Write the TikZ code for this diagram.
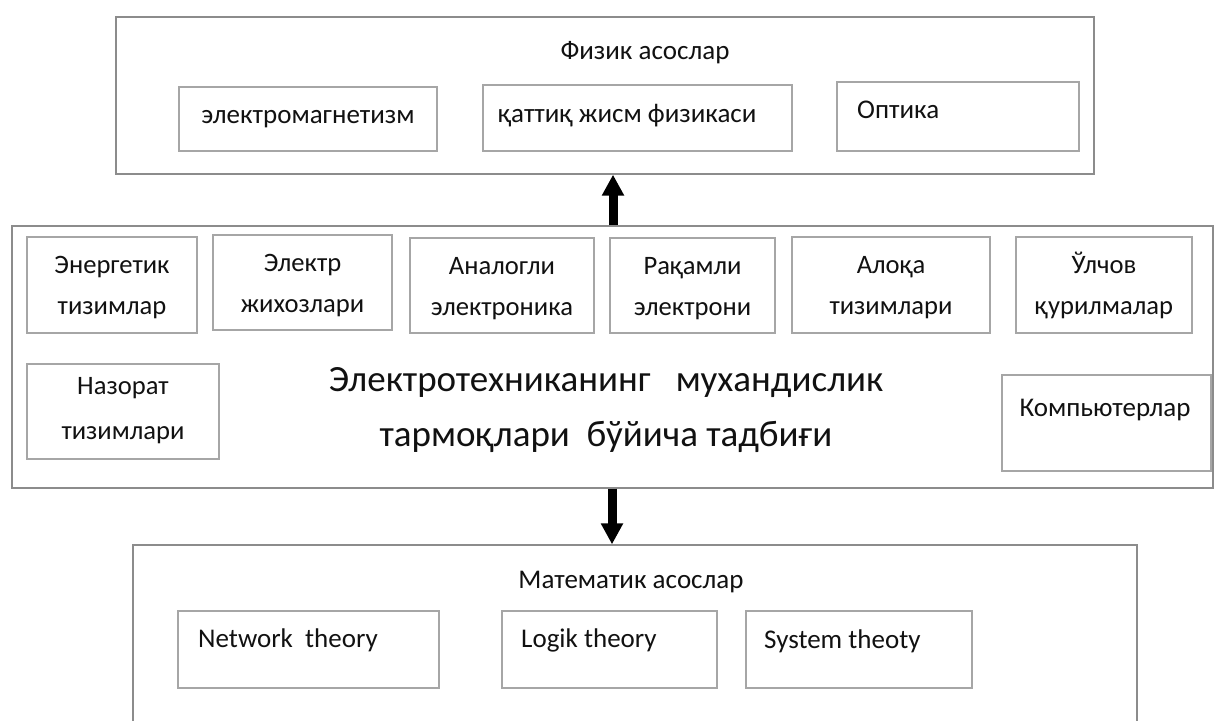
\documentclass[tikz,border=0pt]{standalone}
\usepackage{fontspec}
\setmainfont{Carlito}
\usetikzlibrary{arrows.meta}
\definecolor{boxgray}{HTML}{A6A6A6}
\definecolor{outergray}{HTML}{8C8C8C}
\definecolor{ink}{HTML}{111111}
\newcommand\myTopS[1][28pt]{\rule{0pt}{#1}}
\newcommand\myBotS{\rule[-10pt]{0pt}{10pt}}
\begin{document}
\begin{tikzpicture}[x=1pt,y=-1pt,
  rect/.style n args={4}{minimum width={#3-#1}, minimum height={#4-#2},
                         at={({(#1+#3)/2},{(#2+#4)/2})}},
  box/.style={draw=boxgray, line width=1.2pt, inner sep=0pt, text=ink,
              font=\fontsize{26.6}{41}\selectfont, align=center},
  outer/.style={draw=outergray, line width=1.3pt, inner sep=0pt},
  txt/.style={inner sep=0pt, text=ink, font=\fontsize{27}{32}\selectfont},
  bigtxt/.style={inner sep=0pt, text=ink, font=\fontsize{37}{55}\selectfont, align=center},
  blockarrow/.style={line width=9pt, -{Triangle[width=21pt,length=21pt]}}]
\clip (0,0) rectangle (1214,720);
\fill[white] (0,0) rectangle (1214,720);
% top group
\node[outer, rect={116}{17}{1094}{174}] (top) {};
\node[txt] (toptitle) at (645,53) {Физик асослар};
\node[box, rect={179}{87}{437}{151}, font=\fontsize{27}{32}\selectfont] (emag) {электромагнетизм};
\node[box, rect={483}{85}{792}{151}] (solid) {};
\node[txt, anchor=west] (solidt) at (498,116) {қаттиқ жисм физикаси};
\node[box, rect={837}{82}{1079}{151}] (opt) {};
\node[txt, anchor=west] (optt) at (857,110) {Оптика};
% middle group
\node[outer, rect={12}{226}{1213}{488}] (mid) {};
\node[box, rect={27}{237}{197}{333}] (energ) {\myTopS Энергетик\\тизимлар\myBotS};
\node[box, rect={213}{235}{392}{330}] (equip) {\myTopS Электр\\жихозлари\myBotS};
\node[box, rect={410}{238}{594}{333}] (anal) {\myTopS Аналогли\\электроника\myBotS};
\node[box, rect={610}{238}{775}{333}] (digit) {\myTopS Рақамли\\электрони\myBotS};
\node[box, rect={792}{237}{990}{333}] (comm) {\myTopS Алоқа\\тизимлари\myBotS};
\node[box, rect={1016}{237}{1192}{333}] (meas) {\myTopS Ўлчов\\қурилмалар\myBotS};
\node[box, rect={27}{364}{219}{459}, font=\fontsize{26.6}{45}\selectfont]
      (ctrl) {\myTopS[20pt]Назорат\\тизимлари\myBotS};
\node[box, rect={1002}{375}{1211}{471}] (compb) {};
\node[txt] (compt) at (1105,410) {Компьютерлар};
\node[bigtxt] (center) at (606,410) {Электротехниканинг\ \ \ мухандислик\\тармоқлари\ \ бўйича тадбиғи};
% bottom group
\node[outer, rect={133}{545}{1137}{740}] (bot) {};
\node[txt] (bottitle) at (631,582) {Математик асослар};
\node[box, rect={178}{611}{439}{688}] (netb) {};
\node[txt, anchor=west] (nett) at (198,640) {Network\ \ theory};
\node[box, rect={502}{611}{717}{688}] (logb) {};
\node[txt, anchor=west] (logt) at (521,640) {Logik theory};
\node[box, rect={746}{611}{972}{688}] (sysb) {};
\node[txt, anchor=west] (syst) at (764,641) {System theoty};
% arrows
\coordinate (upx) at (613,0);
\coordinate (downx) at (612,0);
\draw[blockarrow] (mid.north -| upx) -- (top.south -| upx);
\draw[blockarrow] (mid.south -| downx) -- (bot.north -| downx);
\end{tikzpicture}
\end{document}
